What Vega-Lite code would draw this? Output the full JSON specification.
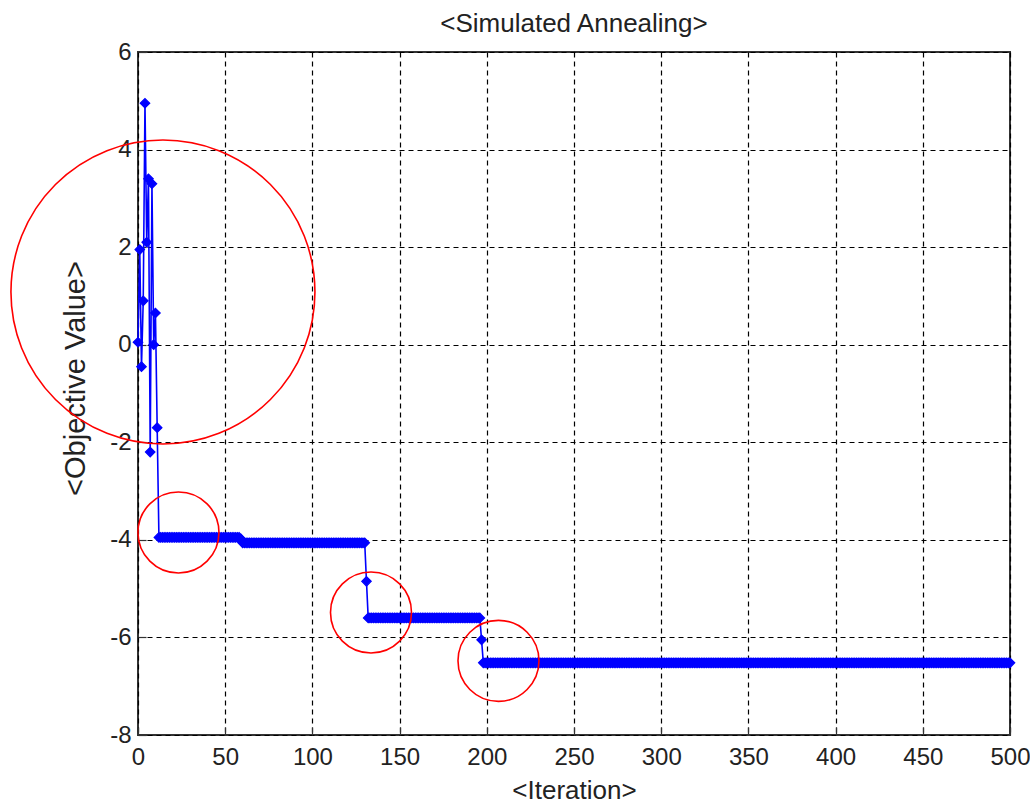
{
  "$schema": "https://vega.github.io/schema/vega-lite/v6.json",
  "autosize": "none",
  "width": 872,
  "height": 683,
  "padding": {"left": 138, "top": 52, "right": 20, "bottom": 69},
  "background": "white",
  "title": {"text": "<Simulated Annealing>", "fontSize": 26, "font": "Liberation Sans", "fontWeight": "normal", "color": "#222222", "offset": -18, "baseline": "alphabetic"},
  "config": {
    "view": {"stroke": "#333333", "strokeWidth": 2},
    "axis": {
      "grid": true, "gridColor": "#000000", "gridDash": [5, 4], "gridWidth": 1.2, "gridOpacity": 1,
      "domain": false, "ticks": true, "tickSize": -8, "tickColor": "#333333", "tickWidth": 1.2,
      "labelFont": "Liberation Sans", "labelFontSize": 24, "labelColor": "#222222", "labelFlush": false, "labelOverlap": false,
      "labelExpr": "toString(datum.value)",
      "titleFont": "Liberation Sans", "titleFontSize": 26, "titleFontWeight": "normal", "titleColor": "#222222"
    }
  },
  "datasets": {
    "sa": [
      {"i":0,"v":0.05},{"i":1,"v":1.95},{"i":2,"v":-0.45},{"i":3,"v":0.9},{"i":4,"v":4.95},{"i":5,"v":2.1},{"i":6,"v":3.4},{"i":7,"v":-2.2},{"i":8,"v":3.3},{"i":9,"v":0.0},
      {"i":10,"v":0.65},{"i":11,"v":-1.7},{"i":12,"v":-3.95},{"i":13,"v":-3.95},{"i":14,"v":-3.95},{"i":15,"v":-3.95},{"i":16,"v":-3.95},{"i":17,"v":-3.95},{"i":18,"v":-3.95},{"i":19,"v":-3.95},
      {"i":20,"v":-3.95},{"i":21,"v":-3.95},{"i":22,"v":-3.95},{"i":23,"v":-3.95},{"i":24,"v":-3.95},{"i":25,"v":-3.95},{"i":26,"v":-3.95},{"i":27,"v":-3.95},{"i":28,"v":-3.95},{"i":29,"v":-3.95},
      {"i":30,"v":-3.95},{"i":31,"v":-3.95},{"i":32,"v":-3.95},{"i":33,"v":-3.95},{"i":34,"v":-3.95},{"i":35,"v":-3.95},{"i":36,"v":-3.95},{"i":37,"v":-3.95},{"i":38,"v":-3.95},{"i":39,"v":-3.95},
      {"i":40,"v":-3.95},{"i":41,"v":-3.95},{"i":42,"v":-3.95},{"i":43,"v":-3.95},{"i":44,"v":-3.95},{"i":45,"v":-3.95},{"i":46,"v":-3.95},{"i":47,"v":-3.95},{"i":48,"v":-3.95},{"i":49,"v":-3.95},
      {"i":50,"v":-3.95},{"i":51,"v":-3.95},{"i":52,"v":-3.95},{"i":53,"v":-3.95},{"i":54,"v":-3.95},{"i":55,"v":-3.95},{"i":56,"v":-3.95},{"i":57,"v":-3.95},{"i":58,"v":-3.95},{"i":59,"v":-3.98},
      {"i":60,"v":-4.06},{"i":61,"v":-4.06},{"i":62,"v":-4.06},{"i":63,"v":-4.06},{"i":64,"v":-4.06},{"i":65,"v":-4.06},{"i":66,"v":-4.06},{"i":67,"v":-4.06},{"i":68,"v":-4.06},{"i":69,"v":-4.06},
      {"i":70,"v":-4.06},{"i":71,"v":-4.06},{"i":72,"v":-4.06},{"i":73,"v":-4.06},{"i":74,"v":-4.06},{"i":75,"v":-4.06},{"i":76,"v":-4.06},{"i":77,"v":-4.06},{"i":78,"v":-4.06},{"i":79,"v":-4.06},
      {"i":80,"v":-4.06},{"i":81,"v":-4.06},{"i":82,"v":-4.06},{"i":83,"v":-4.06},{"i":84,"v":-4.06},{"i":85,"v":-4.06},{"i":86,"v":-4.06},{"i":87,"v":-4.06},{"i":88,"v":-4.06},{"i":89,"v":-4.06},
      {"i":90,"v":-4.06},{"i":91,"v":-4.06},{"i":92,"v":-4.06},{"i":93,"v":-4.06},{"i":94,"v":-4.06},{"i":95,"v":-4.06},{"i":96,"v":-4.06},{"i":97,"v":-4.06},{"i":98,"v":-4.06},{"i":99,"v":-4.06},
      {"i":100,"v":-4.06},{"i":101,"v":-4.06},{"i":102,"v":-4.06},{"i":103,"v":-4.06},{"i":104,"v":-4.06},{"i":105,"v":-4.06},{"i":106,"v":-4.06},{"i":107,"v":-4.06},{"i":108,"v":-4.06},{"i":109,"v":-4.06},
      {"i":110,"v":-4.06},{"i":111,"v":-4.06},{"i":112,"v":-4.06},{"i":113,"v":-4.06},{"i":114,"v":-4.06},{"i":115,"v":-4.06},{"i":116,"v":-4.06},{"i":117,"v":-4.06},{"i":118,"v":-4.06},{"i":119,"v":-4.06},
      {"i":120,"v":-4.06},{"i":121,"v":-4.06},{"i":122,"v":-4.06},{"i":123,"v":-4.06},{"i":124,"v":-4.06},{"i":125,"v":-4.06},{"i":126,"v":-4.06},{"i":127,"v":-4.06},{"i":128,"v":-4.06},{"i":129,"v":-4.06},
      {"i":130,"v":-4.06},{"i":131,"v":-4.85},{"i":132,"v":-5.6},{"i":133,"v":-5.6},{"i":134,"v":-5.6},{"i":135,"v":-5.6},{"i":136,"v":-5.6},{"i":137,"v":-5.6},{"i":138,"v":-5.6},{"i":139,"v":-5.6},
      {"i":140,"v":-5.6},{"i":141,"v":-5.6},{"i":142,"v":-5.6},{"i":143,"v":-5.6},{"i":144,"v":-5.6},{"i":145,"v":-5.6},{"i":146,"v":-5.6},{"i":147,"v":-5.6},{"i":148,"v":-5.6},{"i":149,"v":-5.6},
      {"i":150,"v":-5.6},{"i":151,"v":-5.6},{"i":152,"v":-5.6},{"i":153,"v":-5.6},{"i":154,"v":-5.6},{"i":155,"v":-5.6},{"i":156,"v":-5.6},{"i":157,"v":-5.6},{"i":158,"v":-5.6},{"i":159,"v":-5.6},
      {"i":160,"v":-5.6},{"i":161,"v":-5.6},{"i":162,"v":-5.6},{"i":163,"v":-5.6},{"i":164,"v":-5.6},{"i":165,"v":-5.6},{"i":166,"v":-5.6},{"i":167,"v":-5.6},{"i":168,"v":-5.6},{"i":169,"v":-5.6},
      {"i":170,"v":-5.6},{"i":171,"v":-5.6},{"i":172,"v":-5.6},{"i":173,"v":-5.6},{"i":174,"v":-5.6},{"i":175,"v":-5.6},{"i":176,"v":-5.6},{"i":177,"v":-5.6},{"i":178,"v":-5.6},{"i":179,"v":-5.6},
      {"i":180,"v":-5.6},{"i":181,"v":-5.6},{"i":182,"v":-5.6},{"i":183,"v":-5.6},{"i":184,"v":-5.6},{"i":185,"v":-5.6},{"i":186,"v":-5.6},{"i":187,"v":-5.6},{"i":188,"v":-5.6},{"i":189,"v":-5.6},
      {"i":190,"v":-5.6},{"i":191,"v":-5.6},{"i":192,"v":-5.6},{"i":193,"v":-5.6},{"i":194,"v":-5.6},{"i":195,"v":-5.6},{"i":196,"v":-5.6},{"i":197,"v":-6.05},{"i":198,"v":-6.52},{"i":199,"v":-6.52},
      {"i":200,"v":-6.52},{"i":201,"v":-6.52},{"i":202,"v":-6.52},{"i":203,"v":-6.52},{"i":204,"v":-6.52},{"i":205,"v":-6.52},{"i":206,"v":-6.52},{"i":207,"v":-6.52},{"i":208,"v":-6.52},{"i":209,"v":-6.52},
      {"i":210,"v":-6.52},{"i":211,"v":-6.52},{"i":212,"v":-6.52},{"i":213,"v":-6.52},{"i":214,"v":-6.52},{"i":215,"v":-6.52},{"i":216,"v":-6.52},{"i":217,"v":-6.52},{"i":218,"v":-6.52},{"i":219,"v":-6.52},
      {"i":220,"v":-6.52},{"i":221,"v":-6.52},{"i":222,"v":-6.52},{"i":223,"v":-6.52},{"i":224,"v":-6.52},{"i":225,"v":-6.52},{"i":226,"v":-6.52},{"i":227,"v":-6.52},{"i":228,"v":-6.52},{"i":229,"v":-6.52},
      {"i":230,"v":-6.52},{"i":231,"v":-6.52},{"i":232,"v":-6.52},{"i":233,"v":-6.52},{"i":234,"v":-6.52},{"i":235,"v":-6.52},{"i":236,"v":-6.52},{"i":237,"v":-6.52},{"i":238,"v":-6.52},{"i":239,"v":-6.52},
      {"i":240,"v":-6.52},{"i":241,"v":-6.52},{"i":242,"v":-6.52},{"i":243,"v":-6.52},{"i":244,"v":-6.52},{"i":245,"v":-6.52},{"i":246,"v":-6.52},{"i":247,"v":-6.52},{"i":248,"v":-6.52},{"i":249,"v":-6.52},
      {"i":250,"v":-6.52},{"i":251,"v":-6.52},{"i":252,"v":-6.52},{"i":253,"v":-6.52},{"i":254,"v":-6.52},{"i":255,"v":-6.52},{"i":256,"v":-6.52},{"i":257,"v":-6.52},{"i":258,"v":-6.52},{"i":259,"v":-6.52},
      {"i":260,"v":-6.52},{"i":261,"v":-6.52},{"i":262,"v":-6.52},{"i":263,"v":-6.52},{"i":264,"v":-6.52},{"i":265,"v":-6.52},{"i":266,"v":-6.52},{"i":267,"v":-6.52},{"i":268,"v":-6.52},{"i":269,"v":-6.52},
      {"i":270,"v":-6.52},{"i":271,"v":-6.52},{"i":272,"v":-6.52},{"i":273,"v":-6.52},{"i":274,"v":-6.52},{"i":275,"v":-6.52},{"i":276,"v":-6.52},{"i":277,"v":-6.52},{"i":278,"v":-6.52},{"i":279,"v":-6.52},
      {"i":280,"v":-6.52},{"i":281,"v":-6.52},{"i":282,"v":-6.52},{"i":283,"v":-6.52},{"i":284,"v":-6.52},{"i":285,"v":-6.52},{"i":286,"v":-6.52},{"i":287,"v":-6.52},{"i":288,"v":-6.52},{"i":289,"v":-6.52},
      {"i":290,"v":-6.52},{"i":291,"v":-6.52},{"i":292,"v":-6.52},{"i":293,"v":-6.52},{"i":294,"v":-6.52},{"i":295,"v":-6.52},{"i":296,"v":-6.52},{"i":297,"v":-6.52},{"i":298,"v":-6.52},{"i":299,"v":-6.52},
      {"i":300,"v":-6.52},{"i":301,"v":-6.52},{"i":302,"v":-6.52},{"i":303,"v":-6.52},{"i":304,"v":-6.52},{"i":305,"v":-6.52},{"i":306,"v":-6.52},{"i":307,"v":-6.52},{"i":308,"v":-6.52},{"i":309,"v":-6.52},
      {"i":310,"v":-6.52},{"i":311,"v":-6.52},{"i":312,"v":-6.52},{"i":313,"v":-6.52},{"i":314,"v":-6.52},{"i":315,"v":-6.52},{"i":316,"v":-6.52},{"i":317,"v":-6.52},{"i":318,"v":-6.52},{"i":319,"v":-6.52},
      {"i":320,"v":-6.52},{"i":321,"v":-6.52},{"i":322,"v":-6.52},{"i":323,"v":-6.52},{"i":324,"v":-6.52},{"i":325,"v":-6.52},{"i":326,"v":-6.52},{"i":327,"v":-6.52},{"i":328,"v":-6.52},{"i":329,"v":-6.52},
      {"i":330,"v":-6.52},{"i":331,"v":-6.52},{"i":332,"v":-6.52},{"i":333,"v":-6.52},{"i":334,"v":-6.52},{"i":335,"v":-6.52},{"i":336,"v":-6.52},{"i":337,"v":-6.52},{"i":338,"v":-6.52},{"i":339,"v":-6.52},
      {"i":340,"v":-6.52},{"i":341,"v":-6.52},{"i":342,"v":-6.52},{"i":343,"v":-6.52},{"i":344,"v":-6.52},{"i":345,"v":-6.52},{"i":346,"v":-6.52},{"i":347,"v":-6.52},{"i":348,"v":-6.52},{"i":349,"v":-6.52},
      {"i":350,"v":-6.52},{"i":351,"v":-6.52},{"i":352,"v":-6.52},{"i":353,"v":-6.52},{"i":354,"v":-6.52},{"i":355,"v":-6.52},{"i":356,"v":-6.52},{"i":357,"v":-6.52},{"i":358,"v":-6.52},{"i":359,"v":-6.52},
      {"i":360,"v":-6.52},{"i":361,"v":-6.52},{"i":362,"v":-6.52},{"i":363,"v":-6.52},{"i":364,"v":-6.52},{"i":365,"v":-6.52},{"i":366,"v":-6.52},{"i":367,"v":-6.52},{"i":368,"v":-6.52},{"i":369,"v":-6.52},
      {"i":370,"v":-6.52},{"i":371,"v":-6.52},{"i":372,"v":-6.52},{"i":373,"v":-6.52},{"i":374,"v":-6.52},{"i":375,"v":-6.52},{"i":376,"v":-6.52},{"i":377,"v":-6.52},{"i":378,"v":-6.52},{"i":379,"v":-6.52},
      {"i":380,"v":-6.52},{"i":381,"v":-6.52},{"i":382,"v":-6.52},{"i":383,"v":-6.52},{"i":384,"v":-6.52},{"i":385,"v":-6.52},{"i":386,"v":-6.52},{"i":387,"v":-6.52},{"i":388,"v":-6.52},{"i":389,"v":-6.52},
      {"i":390,"v":-6.52},{"i":391,"v":-6.52},{"i":392,"v":-6.52},{"i":393,"v":-6.52},{"i":394,"v":-6.52},{"i":395,"v":-6.52},{"i":396,"v":-6.52},{"i":397,"v":-6.52},{"i":398,"v":-6.52},{"i":399,"v":-6.52},
      {"i":400,"v":-6.52},{"i":401,"v":-6.52},{"i":402,"v":-6.52},{"i":403,"v":-6.52},{"i":404,"v":-6.52},{"i":405,"v":-6.52},{"i":406,"v":-6.52},{"i":407,"v":-6.52},{"i":408,"v":-6.52},{"i":409,"v":-6.52},
      {"i":410,"v":-6.52},{"i":411,"v":-6.52},{"i":412,"v":-6.52},{"i":413,"v":-6.52},{"i":414,"v":-6.52},{"i":415,"v":-6.52},{"i":416,"v":-6.52},{"i":417,"v":-6.52},{"i":418,"v":-6.52},{"i":419,"v":-6.52},
      {"i":420,"v":-6.52},{"i":421,"v":-6.52},{"i":422,"v":-6.52},{"i":423,"v":-6.52},{"i":424,"v":-6.52},{"i":425,"v":-6.52},{"i":426,"v":-6.52},{"i":427,"v":-6.52},{"i":428,"v":-6.52},{"i":429,"v":-6.52},
      {"i":430,"v":-6.52},{"i":431,"v":-6.52},{"i":432,"v":-6.52},{"i":433,"v":-6.52},{"i":434,"v":-6.52},{"i":435,"v":-6.52},{"i":436,"v":-6.52},{"i":437,"v":-6.52},{"i":438,"v":-6.52},{"i":439,"v":-6.52},
      {"i":440,"v":-6.52},{"i":441,"v":-6.52},{"i":442,"v":-6.52},{"i":443,"v":-6.52},{"i":444,"v":-6.52},{"i":445,"v":-6.52},{"i":446,"v":-6.52},{"i":447,"v":-6.52},{"i":448,"v":-6.52},{"i":449,"v":-6.52},
      {"i":450,"v":-6.52},{"i":451,"v":-6.52},{"i":452,"v":-6.52},{"i":453,"v":-6.52},{"i":454,"v":-6.52},{"i":455,"v":-6.52},{"i":456,"v":-6.52},{"i":457,"v":-6.52},{"i":458,"v":-6.52},{"i":459,"v":-6.52},
      {"i":460,"v":-6.52},{"i":461,"v":-6.52},{"i":462,"v":-6.52},{"i":463,"v":-6.52},{"i":464,"v":-6.52},{"i":465,"v":-6.52},{"i":466,"v":-6.52},{"i":467,"v":-6.52},{"i":468,"v":-6.52},{"i":469,"v":-6.52},
      {"i":470,"v":-6.52},{"i":471,"v":-6.52},{"i":472,"v":-6.52},{"i":473,"v":-6.52},{"i":474,"v":-6.52},{"i":475,"v":-6.52},{"i":476,"v":-6.52},{"i":477,"v":-6.52},{"i":478,"v":-6.52},{"i":479,"v":-6.52},
      {"i":480,"v":-6.52},{"i":481,"v":-6.52},{"i":482,"v":-6.52},{"i":483,"v":-6.52},{"i":484,"v":-6.52},{"i":485,"v":-6.52},{"i":486,"v":-6.52},{"i":487,"v":-6.52},{"i":488,"v":-6.52},{"i":489,"v":-6.52},
      {"i":490,"v":-6.52},{"i":491,"v":-6.52},{"i":492,"v":-6.52},{"i":493,"v":-6.52},{"i":494,"v":-6.52},{"i":495,"v":-6.52},{"i":496,"v":-6.52},{"i":497,"v":-6.52},{"i":498,"v":-6.52},{"i":499,"v":-6.52},
      {"i":500,"v":-6.52}
    ],
    "bigCircle": [{"cx": 14.3, "cy": 1.08}],
    "smallCircles": [{"cx": 23.2, "cy": -3.85}, {"cx": 133.6, "cy": -5.49}, {"cx": 206.7, "cy": -6.48}]
  },
  "layer": [
    {
      "data": {"name": "sa"},
      "mark": {"type": "line", "color": "#0000ff", "strokeWidth": 1.6, "clip": false},
      "encoding": {
        "x": {"field": "i", "type": "quantitative", "scale": {"domain": [0, 500], "nice": false, "zero": false},
              "axis": {"title": "<Iteration>", "values": [0,50,100,150,200,250,300,350,400,450,500], "labelPadding": 18, "titleY": 63, "titleBaseline": "alphabetic"}},
        "y": {"field": "v", "type": "quantitative", "scale": {"domain": [-8, 6], "nice": false, "zero": false},
              "axis": {"title": "<Objective Value>", "values": [-8,-6,-4,-2,0,2,4,6], "labelPadding": 15, "titleX": -54, "titleY": 326, "titleAngle": -90, "titleAlign": "center", "titleBaseline": "alphabetic", "titleFontSize": 29}}
      }
    },
    {
      "data": {"name": "sa"},
      "mark": {"type": "point", "shape": "diamond", "filled": true, "color": "#0000ff", "size": 90, "opacity": 1, "stroke": "#0000ff", "strokeWidth": 1.2, "clip": false},
      "encoding": {
        "x": {"field": "i", "type": "quantitative"},
        "y": {"field": "v", "type": "quantitative"}
      }
    },
    {
      "data": {"name": "bigCircle"},
      "mark": {"type": "point", "shape": "circle", "filled": false, "color": "#ff0000", "size": 92416, "strokeWidth": 1.6, "opacity": 1, "clip": false},
      "encoding": {
        "x": {"field": "cx", "type": "quantitative"},
        "y": {"field": "cy", "type": "quantitative"}
      }
    },
    {
      "data": {"name": "smallCircles"},
      "mark": {"type": "point", "shape": "circle", "filled": false, "color": "#ff0000", "size": 6561, "strokeWidth": 1.6, "opacity": 1, "clip": false},
      "encoding": {
        "x": {"field": "cx", "type": "quantitative"},
        "y": {"field": "cy", "type": "quantitative"}
      }
    }
  ]
}
